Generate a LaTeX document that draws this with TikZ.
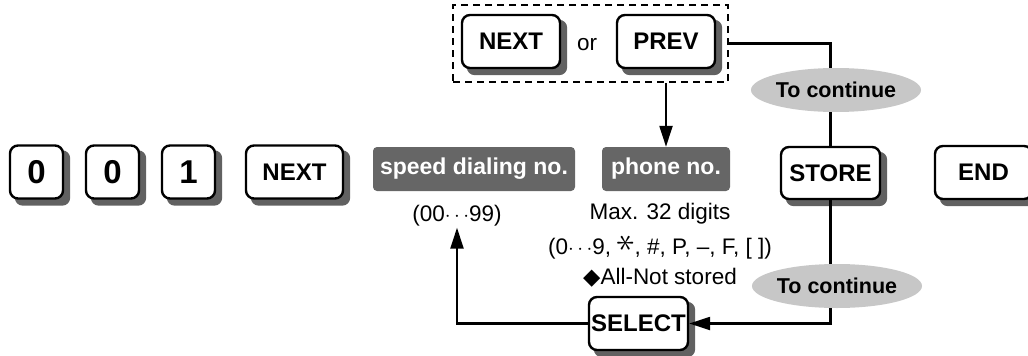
\documentclass[tikz,border=0pt]{standalone}
\usepackage{fontspec}
\usepackage{graphicx}
\setmainfont{Liberation Sans}
\newfontfamily\symfont{DejaVu Sans}
\usetikzlibrary{arrows.meta,shapes.geometric,backgrounds}
\begin{document}
\begin{tikzpicture}[x=1pt,y=-1pt,
		key/.style={draw,line width=2.4pt,rounded corners=8pt,fill=white,minimum height=53pt,inner sep=0pt,
			font=\bfseries\fontsize{24}{27}\selectfont},
		digitkey/.style={key,minimum width=53pt,font=\bfseries\fontsize{33}{36}\selectfont},
		field/.style={fill=black!60,text=white,rounded corners=4pt,minimum height=44pt,inner sep=0pt,
			font=\bfseries\fontsize{23}{26}\selectfont},
		cont/.style={ellipse,fill=black!22,minimum width=142pt,minimum height=44pt,inner sep=0pt,
			font=\bfseries\fontsize{21.5}{24}\selectfont},
		note/.style={inner sep=1pt,font=\fontsize{22.5}{26}\selectfont},
		link/.style={line width=2.2pt},
		arr/.style={link,-{Triangle[length=21pt,width=13pt]}}]
	\useasboundingbox (0,0) rectangle (1028,356);
	% keys along the row
	\node[digitkey] (zeroa) at (36.5,172) {0};
	\node[digitkey] (zerob) at (112.5,172) {0};
	\node[digitkey] (one) at (188.5,172) {1};
	\node[key,minimum width=97pt] (next) at (294.5,172) {NEXT};
	\node[field,minimum width=202pt] (speed) at (474,169) {speed dialing no.};
	\node[field,minimum width=128pt] (phone) at (666,169) {phone no.};
	\node[key,minimum width=99pt,minimum height=52pt] (store) at (830.5,173) {STORE};
	\node[key,minimum width=97pt] (end) at (983.5,172.5) {END};
	% NEXT or PREV
	\node[key,minimum width=98pt] (nexttop) at (511,41.5) {NEXT};
	\node[note] (or) at (587,45) {or};
	\node[key,minimum width=98pt] (prev) at (666,41.5) {PREV};
	\node[draw,line width=2.2pt,dash pattern=on 7pt off 5pt,minimum width=275pt,minimum height=77pt] (choice) at (590.5,43.5) {};
	% notes
	\node[note] (range) at (457,216) {(00$\cdots$99)};
	\node[note] (maxd) at (660,214) {Max. 32 digits};
	\node[note] (chars) at (660,246) {(0$\cdots$9, \raisebox{2pt}{\scalebox{1.8}{\rotatebox{90}{$\ast$}}}, \#, P, --, F, [ ])};
	\node[note] (allnot) at (660,278) {{\symfont ◆}All-Not stored};
	\node[key,minimum width=99pt] (select) at (638.5,323.5) {SELECT};
	% shadows of the keys
	\begin{scope}[on background layer]
		\foreach \k in {zeroa,zerob,one,next,store,end,nexttop,prev,select}
			\fill[black!62,rounded corners=8pt] ([shift={(6,6)}]\k.north west) rectangle ([shift={(6,6)}]\k.south east);
	\end{scope}
	% connectors
	\draw[arr] (choice.south -| phone.north) -- (phone.north);
	\draw[link] (choice.east) -| (store.north);
	\draw[arr] (store.south) |- (select.east);
	\draw[arr] (select.west) -| (range.south);
	\node[cont] (conta) at (836,90) {To continue};
	\node[cont] (contb) at (837,286) {To continue};
\end{tikzpicture}
\end{document}
